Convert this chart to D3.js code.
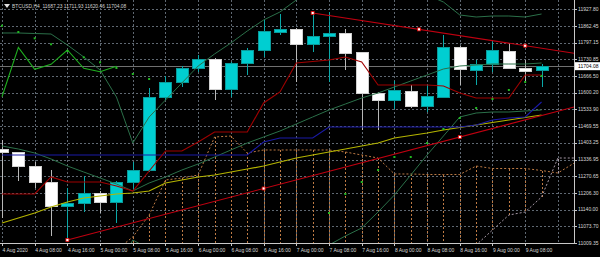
<!DOCTYPE html>
<html><head><meta charset="utf-8">
<script src="https://cdn.jsdelivr.net/npm/d3@7"></script>
<style>html,body{margin:0;padding:0;background:#000;overflow:hidden}</style>
</head><body>
<svg id="c" width="600" height="257"></svg>
<script>
// ---------- DATA ----------
const symbolTitle = "BTCUSD,H4  11687.23 11711.93 11620.46 11704.08";
const timeLabels = ["4 Aug 2020","4 Aug 08:00","4 Aug 16:00","5 Aug 00:00","5 Aug 08:00","5 Aug 16:00","6 Aug 00:00","6 Aug 08:00","6 Aug 16:00","7 Aug 00:00","7 Aug 08:00","7 Aug 16:00","8 Aug 00:00","8 Aug 08:00","8 Aug 16:00","9 Aug 00:00","9 Aug 08:00"];
const timeLabelBars = [0,2,4,6,8,10,12,14,16,18,20,22,24,26,28,30,32];
const extraGridBars = [34];
const priceTicks = [11927.80,11862.45,11797.15,11730.85,11666.50,11600.20,11533.90,11469.55,11403.25,11336.95,11270.65,11206.30,11140.00,11073.70,11009.35];
const lastPrice = 11704.08;

const open  = [11378.3,11362.6,11311.4,11244.6,11150.2,11162.0,11205.2,11168.6,11244.6,11295.7,11582.8,11641.8,11693.0,11731.1,11613.1,11715.4,11767.7,11835.8,11849.1,11791.3,11820.0,11833.4,11757.1,11597.4,11568.3,11606.4,11544.7,11581.7,11778.3,11689.0,11711.5,11761.0,11695.7,11687.23];
const high  = [11413.7,11366.5,11327.2,11295.7,11225.0,11272.1,11213.0,11252.5,11327.2,11618.2,11665.4,11704.8,11748.0,11736.2,11720.5,11775.6,11885.7,11909.3,11854.2,11913.2,11917.2,11850.3,11759.8,11602.4,11647.0,11630.0,11630.0,11826.7,11783.4,11728.4,11804.3,11795.2,11728.4,11711.93];
const low   = [11106.9,11252.5,11225.0,11036.0,11020.4,11130.5,11126.6,11087.2,11217.1,11287.9,11571.0,11622.2,11681.2,11571.0,11582.8,11669.4,11740.2,11826.7,11641.8,11759.8,11641.8,11689.0,11453.0,11453.0,11535.6,11539.6,11525.0,11578.9,11630.0,11630.0,11682.4,11693.0,11643.0,11620.46];
const close = [11362.6,11311.4,11244.6,11150.2,11162.0,11205.2,11168.6,11244.6,11291.8,11582.8,11641.8,11693.0,11731.1,11613.1,11715.4,11767.7,11839.7,11849.1,11791.3,11820.0,11833.4,11754.7,11597.4,11568.3,11607.6,11544.7,11584.0,11778.3,11691.8,11711.5,11767.7,11695.7,11682.4,11704.08];

// Ichimoku
const tenkan = [11201.3,11201.3,11201.3,11268.2,11248.5,11248.5,11248.5,11232.8,11213.1,11291.8,11370.5,11370.5,11405.9,11445.2,11445.2,11445.2,11559.3,11602.6,11716.6,11722.5,11728.4,11740.2,11720.5,11630.0,11630.0,11630.0,11630.0,11626.1,11598.6,11578.9,11578.9,11578.9,11669.4,11669.4];
const kijun  = [11354.7,11354.7,11354.7,11354.7,11354.7,11354.7,11354.7,11354.7,11354.7,11354.7,11354.7,11354.7,11354.7,11354.7,11354.7,11354.7,11405.9,11421.6,11421.6,11421.6,11464.9,11464.9,11464.9,11464.9,11464.9,11464.9,11464.9,11464.9,11464.9,11472.7,11492.4,11500.2,11504.2,11563.2];
const chikou = [11584.0,11778.3,11691.8,11711.5,11767.7,11695.7,11682.4,11704.08];
const spanA  = [null,null,null,null,null,null,null,10981.0,11032.2,11118.7,11256.4,11264.2,11276.0,11425.5,11429.4,11362.6,11374.4,11374.4,11374.4,11374.4,11374.4,11366.5,11354.7,11342.9,11280.0,11280.0,11278.0,11278.0,11278.0,11311.4,11301.6,11301.6,11301.6,11293.7,11283.9,11323.2];
const spanB  = [null,null,null,null,null,null,null,10905,10905,10905,10905,10905,10905,10905,10905,10905,10905,10905,10905,10905,10905,10905,10905,10905,10905,10905,10905,10905,10905,11000.7,11059.7,11118.7,11130.5,11189.5,11342.9,11342.9];

// Bollinger bands
const bbUpper  = [11834.6,11834.6,11832.6,11830.6,11787.4,11740.2,11689.0,11582.8,11401.9,11504.2,11571.0,11637.9,11704.8,11752.0,11795.2,11842.4,11885.7,11917.2,11964.4,12027.3,12062.7,12074.5,12090.3,12066.7,12047.0,12015.5,11984.1,11956.5,11905.4,11897.5,11901.4,11901.4,11897.5,11909.3];
const bbMiddle = [11390.1,11378.3,11362.6,11339.0,11311.4,11287.8,11264.2,11240.6,11213.1,11244.6,11268.2,11295.7,11319.3,11346.8,11374.4,11401.9,11425.5,11449.1,11476.6,11504.2,11531.7,11555.3,11578.9,11598.6,11622.2,11645.8,11669.4,11693.0,11704.8,11708.7,11712.6,11712.6,11712.6,11716.6];
const bbLower  = [10945.6,10922.0,10894.5,10847.3,10835.5,10835.5,10839.4,10898.4,11020.4,10985.0,10965.3,10953.5,10933.8,10941.7,10953.5,10961.4,10965.3,10981.0,10988.9,10981.0,11000.7,11036.1,11067.6,11130.5,11197.4,11276.0,11354.7,11429.4,11504.2,11519.9,11523.8,11523.8,11527.8,11531.7];

// Moving average (yellow)
const maYellow = [11087.2,11106.9,11126.6,11150.2,11169.8,11185.6,11193.4,11201.3,11205.2,11213.1,11244.6,11256.4,11268.2,11276.0,11287.8,11299.6,11311.4,11327.2,11342.9,11354.7,11366.5,11378.3,11390.1,11401.9,11421.6,11431.4,11441.2,11453.0,11462.9,11472.7,11482.5,11492.4,11502.2,11512.0];

// Parabolic SAR dots
const sar = [11863.3,11838.5,11813.7,11790.1,11763.8,11739.0,11719.3,11696.9,11673.3,11653.6,null,null,null,null,null,null,null,null,null,null,11126.6,11201.3,11248.5,11295.7,11346.8,11346.8,11401.9,11457.0,11500.2,11539.6,11575.0,11610.4,11641.8,11665.4];

// Trend lines: [startBar, startPrice, endBar, endPrice]
const trend1 = [4, 11020.4, 28, 11425.5];
const trend2 = [19, 11913.2, 32, 11784.6];

// ---------- DRAW ----------
const PR = 574, PB = 243;
const svg = d3.select("#c");
svg.append("rect").attr("width",600).attr("height",257).attr("fill","#000");
const x = d3.scaleLinear().domain([0,35]).range([2, 2+35*16.35]);
const y = d3.scaleLinear().domain([11009.35,11927.80]).range([242.8,9.3]);

svg.append("defs").append("clipPath").attr("id","clip")
  .append("rect").attr("x",0).attr("y",0).attr("width",PR).attr("height",PB);
const plot = svg.append("g").attr("clip-path","url(#clip)");

const gridCol = "#5f6872";
plot.append("g").selectAll("line").data(priceTicks).join("line")
  .attr("x1",0).attr("x2",PR).attr("y1",d=>Math.round(y(d))+0.5).attr("y2",d=>Math.round(y(d))+0.5)
  .attr("stroke",gridCol).attr("stroke-dasharray","2,2").attr("shape-rendering","crispEdges");
plot.append("g").selectAll("line").data(timeLabelBars.concat(extraGridBars)).join("line")
  .attr("y1",0).attr("y2",PB).attr("x1",d=>Math.round(x(d))+0.5).attr("x2",d=>Math.round(x(d))+0.5)
  .attr("stroke",gridCol).attr("stroke-dasharray","2,2").attr("shape-rendering","crispEdges");

// current price line
plot.append("line").attr("x1",0).attr("x2",PR)
  .attr("y1",Math.round(y(lastPrice))+0.5).attr("y2",Math.round(y(lastPrice))+0.5)
  .attr("stroke","#707070").attr("stroke-width",1);

// Candles
const idx = d3.range(open.length);
const cg = plot.append("g").attr("shape-rendering","crispEdges");
cg.selectAll("line").data(idx).join("line")
  .attr("x1",i=>Math.round(x(i))+0.5).attr("x2",i=>Math.round(x(i))+0.5)
  .attr("y1",i=>y(high[i])).attr("y2",i=>y(low[i]))
  .attr("stroke",i=>close[i]>=open[i]?"#0aa8a8":"#b8b8b8");
cg.selectAll("rect").data(idx).join("rect")
  .attr("x",i=>Math.round(x(i))-6+0.5).attr("width",12)
  .attr("y",i=>y(Math.max(open[i],close[i])))
  .attr("height",i=>Math.max(1,Math.abs(y(open[i])-y(close[i]))))
  .attr("fill",i=>close[i]>=open[i]?"#00ced1":"#ffffff")
  .attr("stroke",i=>close[i]>=open[i]?"#0a9a9a":"#d0d0d0");

// Kumo hatch
const hatch = d3.range(spanA.length).filter(i=>spanA[i]!=null&&spanB[i]!=null);
plot.append("g").selectAll("line").data(hatch).join("line")
  .attr("x1",i=>Math.round(x(i))+0.5).attr("x2",i=>Math.round(x(i))+0.5)
  .attr("y1",i=>y(spanA[i])).attr("y2",i=>y(spanB[i]))
  .attr("stroke",i=>spanA[i]>=spanB[i]?"#bd7a44":"#a89aa8")
  .attr("stroke-dasharray","2,2").attr("shape-rendering","crispEdges");

const line = d3.line().defined(d=>d!=null).x((d,i)=>x(i)).y(d=>y(d));
function path(data,col,w,dash){
  const p = plot.append("path").datum(data).attr("d",line).attr("fill","none")
    .attr("stroke",col).attr("stroke-width",w||1);
  if(dash) p.attr("stroke-dasharray",dash);
  return p;
}
path(spanA,"#bd7a44",1,"2,2");
path(spanB,"#a89aa8",1,"2,2");
path(bbUpper,"#2b7049",1);
path(bbMiddle,"#2b7049",1);
path(bbLower,"#2b7049",1);
path(maYellow,"#b4b400",1.2);
path(kijun,"#1a1aa8",1.1);
path(tenkan,"#a00000",1.1);
path(chikou,"#20b020",1.1);

// SAR dots
plot.append("g").selectAll("rect").data(d3.range(sar.length).filter(i=>sar[i]!=null)).join("rect")
  .attr("x",i=>x(i)-1).attr("y",i=>y(sar[i])-1).attr("width",2).attr("height",2).attr("fill","#22b822");

// Trend lines (rays) with anchor markers
function trend(t){
  const [b1,p1,b2,p2]=t;
  const slope=(p2-p1)/(b2-b1);
  const bEnd=36;
  plot.append("line").attr("x1",x(b1)).attr("y1",y(p1)).attr("x2",x(bEnd)).attr("y2",y(p1+slope*(bEnd-b1)))
    .attr("stroke","#c00010").attr("stroke-width",1.1);
  const marks=[[b1,p1],[(b1+b2)/2,(p1+p2)/2],[b2,p2]];
  plot.append("g").selectAll("rect").data(marks).join("rect")
    .attr("x",d=>x(d[0])-1.5).attr("y",d=>y(d[1])-1.5).attr("width",3).attr("height",3)
    .attr("fill","#fff").attr("stroke","#e00000").attr("stroke-width",0.8);
}
trend(trend1); trend(trend2);

// Axes frame
svg.append("line").attr("x1",PR+0.5).attr("x2",PR+0.5).attr("y1",0).attr("y2",PB+0.5).attr("stroke","#c8c8c8");
svg.append("line").attr("x1",0).attr("x2",PR+0.5).attr("y1",PB+0.5).attr("y2",PB+0.5).attr("stroke","#c8c8c8");

const font = "'Liberation Sans', Arial, sans-serif";
// price axis
const pa = svg.append("g");
pa.selectAll("line").data(priceTicks).join("line")
  .attr("x1",PR).attr("x2",PR+3).attr("y1",d=>Math.round(y(d))+0.5).attr("y2",d=>Math.round(y(d))+0.5).attr("stroke","#c8c8c8");
pa.selectAll("text").data(priceTicks).join("text")
  .attr("x",PR+4).attr("y",d=>y(d)+1.8).text(d=>d.toFixed(2))
  .attr("fill","#d8d8d8").attr("font-family",font).attr("font-size","5px");
// last price label
const ly = y(lastPrice);
svg.append("rect").attr("x",PR+1).attr("y",ly-4).attr("width",25).attr("height",8).attr("fill","#fff");
svg.append("text").attr("x",PR+4).attr("y",ly+1.8).text(lastPrice.toFixed(2))
  .attr("fill","#000").attr("font-family",font).attr("font-size","5px");

// time axis
const ta = svg.append("g");
ta.selectAll("line").data(timeLabelBars).join("line")
  .attr("x1",d=>Math.round(x(d))+0.5).attr("x2",d=>Math.round(x(d))+0.5).attr("y1",PB).attr("y2",PB+3).attr("stroke","#c8c8c8");
ta.selectAll("text").data(timeLabelBars).join("text")
  .attr("x",d=>x(d)+0.5).attr("y",252).text((d,i)=>timeLabels[i])
  .attr("fill","#d8d8d8").attr("font-family",font).attr("font-size","5px");

// title
svg.append("path").attr("d","M4,4 L10,4 L7,8 Z").attr("fill","#e0e0e0");
svg.append("text").attr("x",12).attr("y",7.8).text(symbolTitle)
  .attr("fill","#d0d0d0").attr("font-family",font).attr("font-size","4.9px").attr("xml:space","preserve").style("white-space","pre");
</script>
</body></html>
